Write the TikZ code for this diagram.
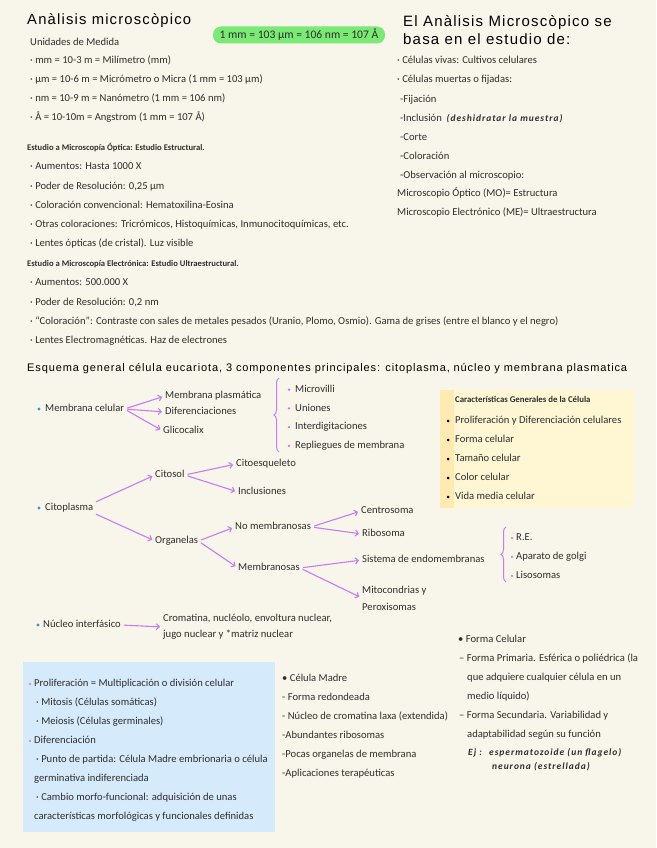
\documentclass[tikz,border=0pt]{standalone}
\usepackage{fontspec}
\setmainfont{Carlito}
\newfontfamily\titlefont{Liberation Sans}[LetterSpace=8]
\newfontfamily\scribblefont{Carlito}[LetterSpace=10]
\usepackage{xcolor}
\definecolor{paper}{HTML}{F8F5EA}
\definecolor{ink}{HTML}{2E2E2E}
\definecolor{arrowviolet}{HTML}{C67CF3}
\definecolor{dotblue}{HTML}{3A8FE8}
\definecolor{dotpink}{HTML}{D070E8}
\definecolor{pillgreen}{HTML}{7BEA74}
\definecolor{noteyellow}{HTML}{FFF6D4}
\definecolor{stripyellow}{HTML}{FFEBB2}
\definecolor{noteblue}{HTML}{D5EAFB}
\usetikzlibrary{arrows.meta,positioning,decorations.pathreplacing,calc}
\newcommand{\bodysize}{\fontsize{10.6}{12}\selectfont}
\newcommand{\hdsize}{\fontsize{8.6}{9}\selectfont\bfseries}
\newcommand{\scribble}{\scribblefont\fontsize{9.5}{10}\selectfont\bfseries\itshape}

\begin{document}
\begin{tikzpicture}[
		x=1pt, y=-1pt,
		>={Straight Barb[length=3pt,width=6pt]},
		txt/.style={anchor=west, inner sep=0pt, text=ink, font=\bodysize, text height=7.5pt, text depth=2pt},
		hdtxt/.style={txt, font=\hdsize},
		titletxt/.style={anchor=west, inner sep=0pt, text=black, font=\titlefont\fontsize{14.8}{18}\selectfont},
		arr/.style={->, draw=arrowviolet, line width=1.1pt, shorten <=3pt, shorten >=3pt},
		curly/.style={draw=arrowviolet, line width=1pt, decorate, decoration={brace, amplitude=5pt}},
		pill/.style={fill=pillgreen, rounded corners=8pt, minimum width=172pt, minimum height=17pt, inner sep=0pt, font=\fontsize{11.6}{12}\selectfont, text=ink}
	]
		% Page
		\fill[paper] (0,0) rectangle (656,848);
		\useasboundingbox (0,0) rectangle (656,848);

		% Units
		\node[titletxt] (title) at (27,21) {Anàlisis microscòpico};
		\node[pill] (pill) at (299,35) {1 mm = 103 μm = 106 nm = 107 Å};
		\node[txt] (units) at (30,43) {Unidades de Medida};
		\foreach \t [count=\i] in {{· mm = 10-3 m = Milímetro (mm)},
				{· μm = 10-6 m = Micrómetro o Micra (1 mm = 103 μm)},
				{· nm = 10-9 m = Nanómetro (1 mm = 106 nm)},
				{· Å = 10-10m = Angstrom (1 mm = 107 Å)}}
			\node[txt] (unit-\i) at (30,{42+19*\i}) {\t};

		% What the analysis studies
		\node[titletxt, font=\titlefont\fontsize{15}{18}\selectfont, align=left] (basis) at (403,30) {El Anàlisis Microscòpico se\\basa en el estudio de:};
		\node[txt] (live) at (397,61) {· Células vivas: Cultivos celulares};
		\node[txt] (dead) at (397,80) {· Células muertas o fijadas:};
		\foreach \t [count=\i] in {{-Fijación},
				{-Inclusión \ {\scribble (deshidratar la muestra)}},
				{-Corte}, {-Coloración}, {-Observación al microscopio:}}
			\node[txt] (step-\i) at (400,{81+19*\i}) {\t};
		\node[txt] (mo) at (397,194) {Microscopio Óptico (MO)= Estructura};
		\node[txt] (me) at (397,213) {Microscopio Electrónico (ME)= Ultraestructura};

		% Optical microscopy
		\node[hdtxt] (optic) at (27,148) {Estudio a Microscopía Óptica: Estudio Estructural.};
		\foreach \t [count=\i] in {{· Aumentos: Hasta 1000 X},
				{· Poder de Resolución: 0,25 μm},
				{· Coloración convencional: Hematoxilina-Eosina},
				{· Otras coloraciones: Tricrómicos, Histoquímicas, Inmunocitoquímicas, etc.},
				{· Lentes ópticas (de cristal). Luz visible}}
			\node[txt] (optic-\i) at (30,{148+19.2*\i}) {\t};

		% Electron microscopy
		\node[hdtxt] (electron) at (27,264) {Estudio a Microscopía Electrónica: Estudio Ultraestructural.};
		\foreach \t [count=\i] in {{· Aumentos: 500.000 X},
				{· Poder de Resolución: 0,2 nm},
				{· “Coloración”: Contraste con sales de metales pesados (Uranio, Plomo, Osmio). Gama de grises (entre el blanco y el negro)},
				{· Lentes Electromagnéticas. Haz de electrones}}
			\node[txt] (electron-\i) at (30,{264+19.2*\i}) {\t};

		\node[titletxt, font=\titlefont\fontsize{11}{12}\selectfont] (scheme) at (27,369) {Esquema general célula eucariota, 3 componentes principales: citoplasma, núcleo y membrana plasmatica};

		% Membrana celular
		\node[txt] (membrana) at (45,409) {Membrana celular};
		\fill[dotblue] ([xshift=-6pt]membrana.west) circle (1.6pt);
		\node[txt] (mplasm) at (165,396) {Membrana plasmática};
		\node[txt] (difer) at (165,412) {Diferenciaciones};
		\node[txt] (glico) at (163,431) {Glicocalix};
		\draw[arr] (membrana.east) -- (mplasm.west);
		\draw[arr] (membrana.east) -- (difer.west);
		\draw[arr] (membrana.east) -- (glico.west);

		\draw[curly] (279,452) -- (279,378);
		\foreach \t [count=\i] in {Microvilli, Uniones, Interdigitaciones, Repliegues de membrana} {
			\node[txt] (spec-\i) at (295,{371+18.7*\i}) {\t};
			\fill[dotpink] ([xshift=-6pt]spec-\i.west) circle (1.3pt);
		}

		% Citoplasma
		\node[txt] (citoplasma) at (45,508) {Citoplasma};
		\fill[dotblue] ([xshift=-6pt]citoplasma.west) circle (1.6pt);
		\node[txt] (citosol) at (155,475) {Citosol};
		\node[txt] (citoesq) at (236,464) {Citoesqueleto};
		\node[txt] (inclus) at (238,492) {Inclusiones};
		\node[txt] (organelas) at (155,541) {Organelas};
		\node[txt] (nomemb) at (235,527) {No membranosas};
		\node[txt] (memb) at (238,568) {Membranosas};
		\node[txt] (centro) at (361,511) {Centrosoma};
		\node[txt] (ribo) at (362,534) {Ribosoma};
		\node[txt] (endo) at (362,560) {Sistema de endomembranas};
		\node[txt, align=left, text height=, text depth=] (mito) at (362,598) {Mitocondrias y\\[5pt]Peroxisomas};
		\draw[arr] (citoplasma.north east) -- (citosol.west);
		\draw[arr] (citoplasma.south east) -- (organelas.west);
		\draw[arr] (citosol.east) -- (citoesq.west);
		\draw[arr] (citosol.east) -- (inclus.west);
		\draw[arr] (organelas.east) -- (nomemb.west);
		\draw[arr] (organelas.east) -- (memb.west);
		\draw[arr] (nomemb.east) -- (centro.west);
		\draw[arr] (nomemb.east) -- (ribo.west);
		\draw[arr] (memb.east) -- (endo.west);
		\draw[arr] (memb.east) -- (mito.west);

		\draw[curly] (506,582) -- (506,527);
		\foreach \t [count=\i] in {R.E., Aparato de golgi, Lisosomas} {
			\node[txt] (endo-\i) at (516,{519+19*\i}) {\t};
			\fill[dotpink] ([xshift=-4pt]endo-\i.west) circle (1.2pt);
		}

		% Nucleo
		\node[txt] (nucleo) at (43,625) {Núcleo interfásico};
		\fill[dotblue] ([xshift=-5pt]nucleo.west) circle (1.6pt);
		\node[txt, align=left, text height=, text depth=] (cromatina) at (163,627) {Cromatina, nucléolo, envoltura nuclear,\\[4pt]jugo nuclear y *matriz nuclear};
		\draw[arr] (nucleo.east) -- (cromatina.west);

		% Caracteristicas generales
		\fill[noteyellow] (440,390) rectangle (634,508);
		\fill[stripyellow] (440,390) rectangle (454,508);
		\node[hdtxt, font=\fontsize{8.8}{10}\selectfont\bfseries] (general) at (455,400) {Características Generales de la Célula};
		\foreach \t [count=\i] in {Proliferación y Diferenciación celulares, Forma celular, Tamaño celular, Color celular, Vida media celular} {
			\node[txt] (feat-\i) at (455,{402+19*\i}) {\t};
			\fill[black] ([xshift=-7pt]feat-\i.west) circle (1.5pt);
		}

		% Proliferacion y diferenciacion
		\fill[noteblue] (23,662) rectangle (275,832);
		\node[txt] (prolif) at (34,684) {Proliferación = Multiplicación o división celular};
		\fill[dotpink] ([xshift=-4pt]prolif.west) circle (1.2pt);
		\node[txt] (mitosis) at (36,703) {· Mitosis (Células somáticas)};
		\node[txt] (meiosis) at (36,722) {· Meiosis (Células germinales)};
		\node[txt] (difer2) at (34,741) {Diferenciación};
		\fill[dotpink] ([xshift=-4pt]difer2.west) circle (1.2pt);
		\node[txt] (punto) at (36,760) {· Punto de partida: Célula Madre embrionaria o célula};
		\node[txt] (punto2) at (34,779) {germinativa indiferenciada};
		\node[txt] (cambio) at (36,798) {· Cambio morfo-funcional: adquisición de unas};
		\node[txt] (cambio2) at (34,817) {características morfológicas y funcionales definidas};

		% Celula madre
		\foreach \t [count=\i] in {{• Célula Madre}, {- Forma redondeada},
				{- Núcleo de cromatina laxa (extendida)}, {-Abundantes ribosomas},
				{-Pocas organelas de membrana}, {-Aplicaciones terapéuticas}}
			\node[txt] (madre-\i) at (282,{660+19*\i}) {\t};

		% Forma celular
		\node[txt] (forma) at (458,640) {• Forma Celular};
		\node[txt] (prim) at (459,659) {– Forma Primaria. Esférica o poliédrica (la};
		\node[txt] (prim2) at (467,678) {que adquiere cualquier célula en un};
		\node[txt] (prim3) at (467,697) {medio líquido)};
		\node[txt] (secu) at (459,716) {– Forma Secundaria. Variabilidad y};
		\node[txt] (secu2) at (467,735) {adaptabilidad según su función};
		\node[txt, font=\scribble] (ej) at (468,753) {Ej : \ espermatozoide (un flagelo)};
		\node[txt, font=\scribble] (ej2) at (492,767) {neurona (estrellada)};
	\end{tikzpicture}
\end{document}
